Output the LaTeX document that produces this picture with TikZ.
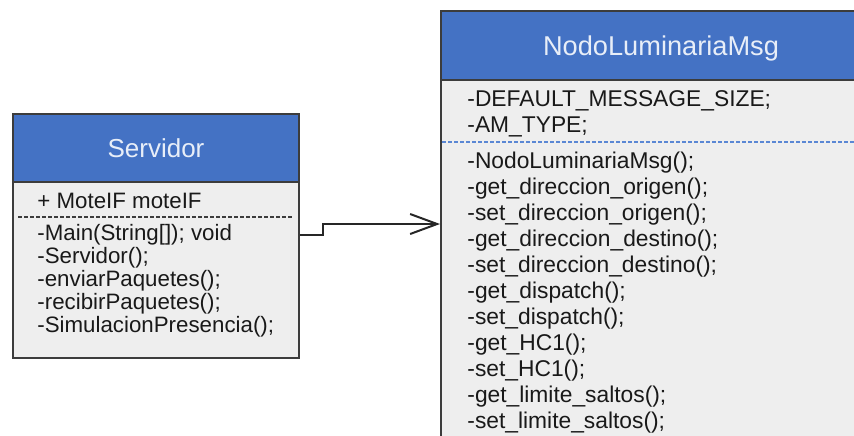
\documentclass[tikz,border=0pt]{standalone}
\usepackage{fontspec}
\setmainfont{Liberation Sans}
\usetikzlibrary{arrows.meta,positioning}
\definecolor{hdrblue}{RGB}{68,114,196}
\definecolor{hdrtext}{RGB}{232,238,248}
\definecolor{boxgray}{RGB}{238,238,238}
\definecolor{edgegray}{RGB}{60,60,60}
\definecolor{sepblue}{RGB}{90,135,212}

\begin{document}
\begin{tikzpicture}[x=0.5pt,y=-0.5pt]
\tikzstyle{every node}+=[inner sep=0pt]
\tikzstyle{head}=[draw=edgegray,fill=hdrblue,line width=1pt,anchor=north west,text=hdrtext,text depth=0pt,font=\fontsize{13}{15}\selectfont]
\tikzstyle{body}=[draw=edgegray,fill=boxgray,line width=1pt,anchor=north west]
\tikzstyle{item}=[anchor=base west,text=black!90,font=\fontsize{11.15}{13}\selectfont]
\tikzstyle{itembig}=[item,font=\fontsize{11.4}{13}\selectfont]
\tikzstyle{conn}=[line width=1pt,black!85,-{Straight Barb[length=13.5pt,width=10pt]}]
\useasboundingbox (0,0) rectangle (854,435);
\clip (0,0) rectangle (854,435);
\node [body,minimum width=143pt,minimum height=88pt] (srvbody) at (12,181) {};
\node [head,minimum width=143pt,minimum height=34pt] (srvhead) at (12,113) {Servidor};
\node [item] (srvattr) at (37,208) {+ MoteIF moteIF};
\draw [edgegray,line width=0.75pt,dash pattern=on 2pt off 1pt] (18,217) -- (293,217);
\node [item] (srvm1) at (37,240) {-Main(String[]); void};
\node [item] (srvm2) at (37,263) {-Servidor();};
\node [item] (srvm3) at (37,286) {-enviarPaquetes();};
\node [item] (srvm4) at (37,309) {-recibirPaquetes();};
\node [item] (srvm5) at (37,332) {-SimulacionPresencia();};
\node [body,minimum width=220pt,minimum height=200pt] (msgbody) at (440,79) {};
\node [head,minimum width=220pt,minimum height=34.5pt,font=\fontsize{13.6}{15}\selectfont] (msghead) at (440,10) {NodoLuminariaMsg};
\node [itembig] (msga1) at (467,106) {-DEFAULT\_MESSAGE\_SIZE;};
\node [itembig] (msga2) at (467,132) {-AM\_TYPE;};
\draw [sepblue,line width=0.75pt,dash pattern=on 2pt off 1pt] (442,142) -- (860,142);
\node [itembig] (msgm1) at (467,168) {-NodoLuminariaMsg();};
\node [itembig] (msgm2) at (467,194) {-get\_direccion\_origen();};
\node [itembig] (msgm3) at (467,220) {-set\_direccion\_origen();};
\node [itembig] (msgm4) at (467,246) {-get\_direccion\_destino();};
\node [itembig] (msgm5) at (467,272) {-set\_direccion\_destino();};
\node [itembig] (msgm6) at (467,298) {-get\_dispatch();};
\node [itembig] (msgm7) at (467,324) {-set\_dispatch();};
\node [itembig] (msgm8) at (467,350) {-get\_HC1();};
\node [itembig] (msgm9) at (467,376) {-set\_HC1();};
\node [itembig] (msgm10) at (467,402) {-get\_limite\_saltos();};
\node [itembig] (msgm11) at (467,428) {-set\_limite\_saltos();};
\coordinate (bendlow) at (323,235);
\coordinate (bendhigh) at (323,224);
\draw [conn] (srvbody.east |- bendlow) -- (bendlow) -- (bendhigh) -- (msgbody.west |- bendhigh);
\end{tikzpicture}
\end{document}
